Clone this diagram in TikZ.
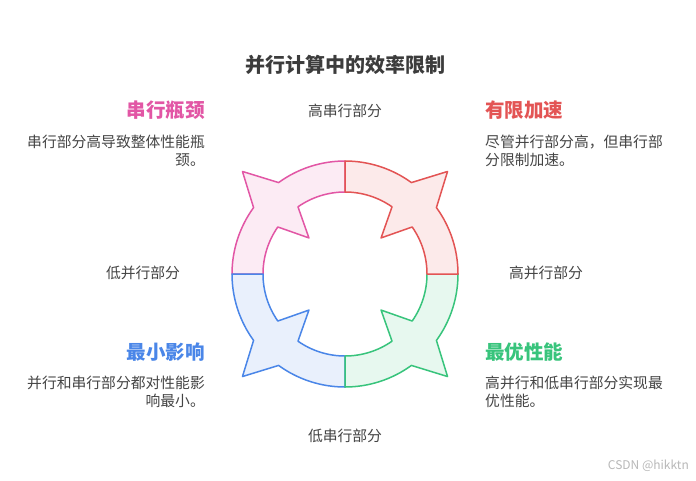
\documentclass[tikz,border=0pt]{standalone}
\usepackage{fontspec}
\setmainfont{Noto Sans CJK SC}
\usepackage{xcolor}
\definecolor{cycleRed}{RGB}{227, 84, 84}
\definecolor{cyclePink}{RGB}{226, 86, 165}
\definecolor{cycleBlue}{RGB}{74, 134, 232}
\definecolor{cycleGreen}{RGB}{56, 196, 124}
\definecolor{textGray}{RGB}{68, 68, 68}
\definecolor{titleGray}{RGB}{60, 60, 60}
\usepackage{tikz}
\usetikzlibrary{positioning}

\begin{document}
\begin{tikzpicture}[x=1pt, y=-1pt,
  heading/.style={font=\fontsize{19.5}{22}\selectfont\bfseries, inner sep=0pt},
  desc/.style={font=\fontsize{14.8}{18.3}\selectfont, text=textGray, inner sep=0pt},
  part/.style={font=\fontsize{14.8}{18}\selectfont, text=textGray, inner sep=0pt},
  quarter/.style={line width=1.5pt, line join=round},
]
  \useasboundingbox[fill=white] (0,0) rectangle (696,480);

  % title
  \node[font=\fontsize{20}{24}\selectfont\bfseries, text=titleGray] (title) at (345,65) {并行计算中的效率限制};

  % ring of four arrow quarters
  \begin{scope}[shift={(345,274)}, yscale=-1]
    \foreach \a/\c in {90/cyclePink, 180/cycleBlue, 270/cycleGreen, 0/cycleRed}
      \draw[quarter, draw=\c, fill=\c!12]
        ({\a+90}:113) arc[start angle=\a+90, end angle=\a+54, radius=113]
        -- ({\a+45}:145) -- ({\a+36}:113)
        arc[start angle=\a+36, end angle=\a, radius=113]
        -- (\a:82) arc[start angle=\a, end angle=\a+35, radius=82]
        -- ({\a+45}:51) -- ({\a+55}:82)
        arc[start angle=\a+55, end angle=\a+90, radius=82] -- cycle;
  \end{scope}

  % axis labels
  \node[part] (highSerial) at (345,111) {高串行部分};
  \node[part] (highPar) at (546,273) {高并行部分};
  \node[part] (lowSerial) at (345,436) {低串行部分};
  \node[part] (lowPar) at (143,273) {低并行部分};

  % serial bottleneck
  \node[heading, text=cyclePink, anchor=east] (bottleneck) at (205,110.5) {串行瓶颈};
  \node[desc, align=right, anchor=north east] (bottleneckText) at (205,134.5)
    {串行部分高导致整体性能瓶\\颈。};

  % limited speedup
  \node[heading, text=cycleRed, anchor=west] (speedup) at (485,110.5) {有限加速};
  \node[desc, align=left, anchor=north west] (speedupText) at (485,134.5)
    {尽管并行部分高，但串行部\\分限制加速。};

  % minimal impact
  \node[heading, text=cycleBlue, anchor=east] (impact) at (205,352) {最小影响};
  \node[desc, align=right, anchor=north east] (impactText) at (205,375.5)
    {并行和串行部分都对性能影\\响最小。};

  % best performance
  \node[heading, text=cycleGreen, anchor=west] (best) at (485,352) {最优性能};
  \node[desc, align=left, anchor=north west] (bestText) at (485,375.5)
    {高并行和低串行部分实现最\\优性能。};

  % watermark
  \node[font=\fontsize{12}{14}\selectfont, text=black!28, anchor=east, inner sep=0pt] (mark) at (689,466) {CSDN @hikktn};
\end{tikzpicture}
\end{document}
